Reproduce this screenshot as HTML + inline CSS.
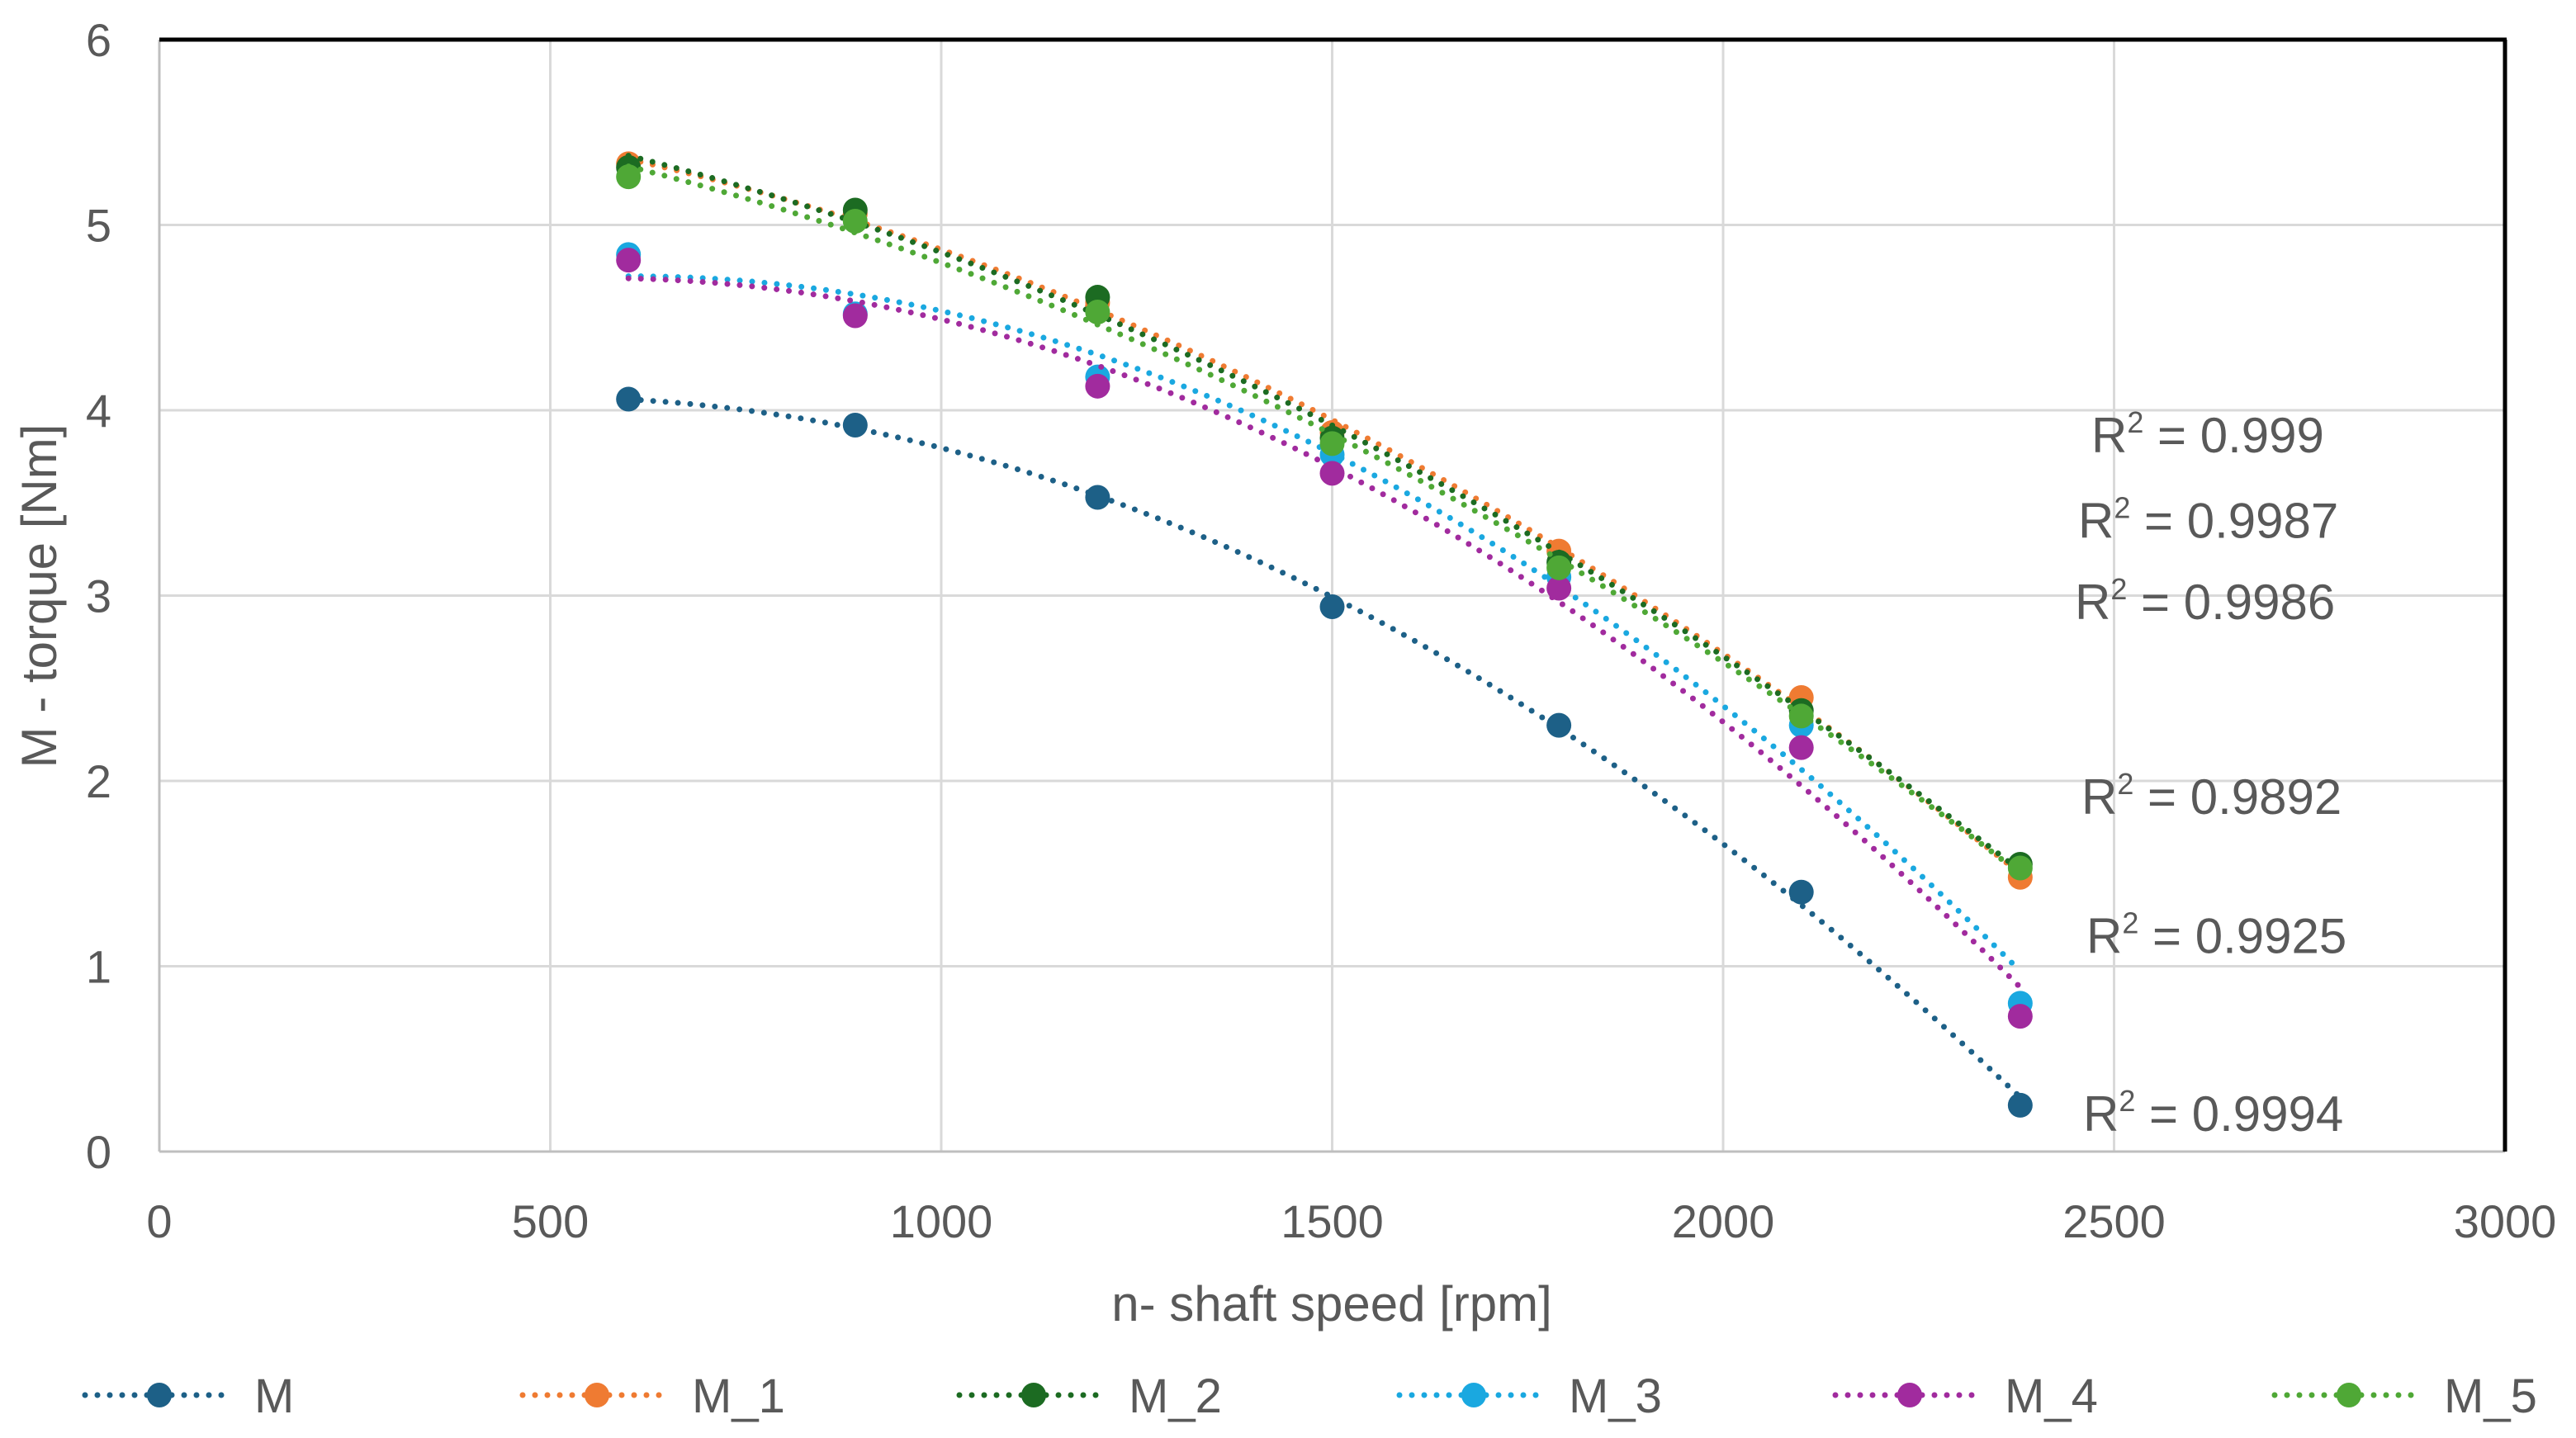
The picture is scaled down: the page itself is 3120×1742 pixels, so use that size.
<!DOCTYPE html>
<html><head><meta charset="utf-8"><style>
html,body{margin:0;padding:0;background:#fff}
svg{display:block}
text{font-family:"Liberation Sans",sans-serif;fill:#595959}
</style></head><body>
<svg id="chart" width="3120" height="1742" viewBox="0 0 3120 1742" xmlns="http://www.w3.org/2000/svg">
<g id="grid"></g>
<g id="axes"></g>
<g id="series"></g>
<g id="r2"></g>
<g id="legend"></g>
<text x="1613" y="1600" font-size="60" text-anchor="middle">n- shaft speed [rpm]</text>
<text transform="translate(68,722) rotate(-90)" font-size="60" text-anchor="middle">M - torque [Nm]</text>
</svg>
<script>
const xTicks=[0,500,1000,1500,2000,2500,3000];
const yTicks=[0,1,2,3,4,5,6];
const speeds=[600,890,1200,1500,1790,2100,2380];
const seriesNames=["M","M_1","M_2","M_3","M_4","M_5"];
const valsM=[4.06,3.92,3.53,2.94,2.30,1.40,0.25];
const valsM1=[5.33,5.06,4.58,3.88,3.24,2.45,1.48];
const valsM2=[5.31,5.08,4.61,3.85,3.18,2.38,1.55];
const valsM3=[4.84,4.52,4.18,3.76,3.10,2.30,0.80];
const valsM4=[4.81,4.51,4.13,3.66,3.04,2.18,0.73];
const valsM5=[5.26,5.02,4.53,3.82,3.15,2.35,1.53];
const r2Labels=["0.999","0.9987","0.9986","0.9892","0.9925","0.9994"];
const r2Values=[3.87,3.41,2.97,1.92,1.17,0.21];
const r2X=[2533,2517,2513,2521,2527,2523];
const colors=["#1d6087","#ef7b32","#1c6b22","#1aa8e0","#a12b9e","#4fa836"];
const allVals=[valsM,valsM1,valsM2,valsM3,valsM4,valsM5];
const NS="http://www.w3.org/2000/svg";
const X0=193,X1=3034,Y0=1395,Y1=48;
const sx=v=>X0+(v-0)/(3000-0)*(X1-X0);
const sy=v=>Y0-(v-0)/(6-0)*(Y0-Y1);
function mk(tag,attrs,parent){const e=document.createElementNS(NS,tag);for(const k in attrs)e.setAttribute(k,attrs[k]);parent.appendChild(e);return e;}
const grid=document.getElementById('grid'),axes=document.getElementById('axes'),ser=document.getElementById('series'),r2g=document.getElementById('r2'),leg=document.getElementById('legend');
xTicks.forEach(t=>{
  if(t>0&&t<3000){const l=mk('line',{x1:sx(t),x2:sx(t),y1:Y1,y2:Y0,stroke:'#d9d9d9','stroke-width':3},grid);
  
  }
  const tx=mk('text',{x:sx(t),y:1499,'font-size':56,'text-anchor':'middle'},axes);tx.textContent=t;
  
  
});
yTicks.forEach(t=>{
  if(t>0&&t<6){const l=mk('line',{x1:X0,x2:X1,y1:sy(t),y2:sy(t),stroke:'#d9d9d9','stroke-width':3},grid);
  
  }
  const tx=mk('text',{x:135,y:sy(t)+20,'font-size':56,'text-anchor':'end'},axes);tx.textContent=t;
  
  
});
let a;
a=mk('line',{x1:X0,x2:X0,y1:Y1,y2:Y0,stroke:'#bfbfbf','stroke-width':3},axes);
a=mk('line',{x1:X0,x2:X1,y1:Y0,y2:Y0,stroke:'#bfbfbf','stroke-width':3},axes);
a=mk('line',{x1:X0,x2:X1+2,y1:Y1,y2:Y1,stroke:'#000','stroke-width':5},axes);
a=mk('line',{x1:X1,x2:X1,y1:Y1,y2:Y0,stroke:'#000','stroke-width':5},axes);
function quadFit(xs,ys){let n=xs.length,S=[0,0,0,0,0],T=[0,0,0];
 for(let i=0;i<n;i++){const x=xs[i]/1000;for(let k=0;k<5;k++)S[k]+=Math.pow(x,k);for(let k=0;k<3;k++)T[k]+=ys[i]*Math.pow(x,k);}
 const A=[[S[0],S[1],S[2],T[0]],[S[1],S[2],S[3],T[1]],[S[2],S[3],S[4],T[2]]];
 for(let i=0;i<3;i++){for(let j=i+1;j<3;j++){const f=A[j][i]/A[i][i];for(let k=i;k<4;k++)A[j][k]-=f*A[i][k];}}
 const c=[0,0,0];for(let i=2;i>=0;i--){let s=A[i][3];for(let k=i+1;k<3;k++)s-=A[i][k]*c[k];c[i]=s/A[i][i];}
 return x=>{const u=x/1000;return c[0]+c[1]*u+c[2]*u*u;};}
allVals.forEach((vals,si)=>{
  const g=mk('g',{},ser);
  
  
  const f=quadFit(speeds,vals);let d='';
  for(let x=speeds[0];x<=speeds[speeds.length-1];x+=10){d+=(d?'L':'M')+sx(x).toFixed(1)+','+sy(f(x)).toFixed(1);}
  const p=mk('path',{d:d,fill:'none',stroke:colors[si],'stroke-width':7,'stroke-linecap':'round','stroke-dasharray':'0 15'},g);
  
  
  vals.forEach((v,i)=>{const c=mk('circle',{cx:sx(speeds[i]),cy:sy(v),r:15,fill:colors[si]},g);
  
  });
});
r2Labels.forEach((l,i)=>{
  const t=mk('text',{x:r2X[i],y:sy(r2Values[i])+22,'font-size':60},r2g);
  t.innerHTML='R<tspan dy="-24" font-size="36">2</tspan><tspan dy="24"> = '+l+'</tspan>';
  
  
});
const legX=[193,723,1252,1785,2313,2845];
seriesNames.forEach((n,i)=>{
  const g=mk('g',{},leg);
  
  
  const cx=legX[i];
  mk('line',{x1:cx-90,x2:cx+90,y1:1690,y2:1690,stroke:colors[i],'stroke-width':7,'stroke-linecap':'round','stroke-dasharray':'0 15'},g);
  mk('circle',{cx:cx,cy:1690,r:15,fill:colors[i]},g);
  const t=mk('text',{x:cx+115,y:1711,'font-size':58},g);t.textContent=n;
});
</script>
</body></html>
